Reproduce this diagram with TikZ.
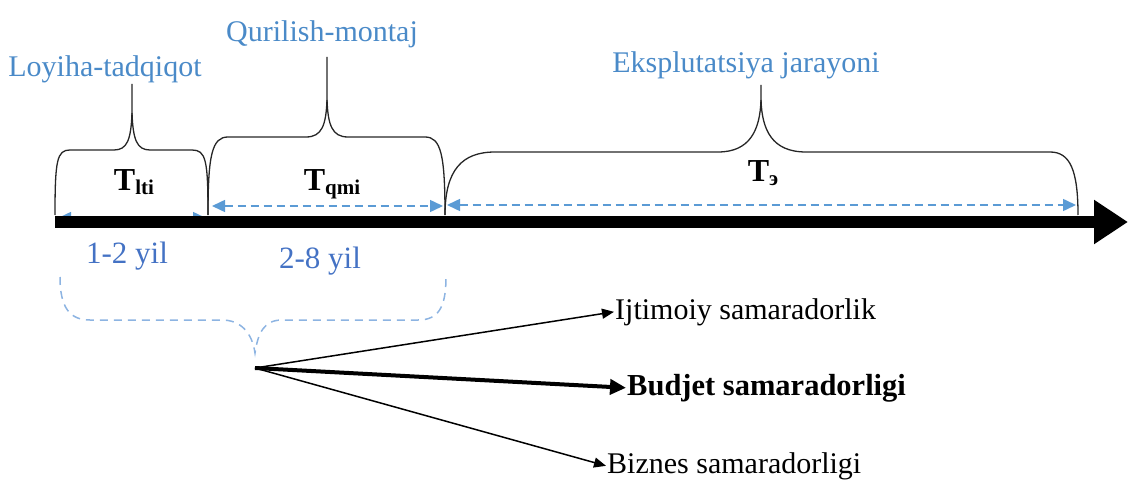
\documentclass[tikz,border=0pt]{standalone}
\usepackage{fontspec}
\setmainfont{Liberation Serif}
\usetikzlibrary{arrows.meta,calc,positioning}

\definecolor{toplbl}{RGB}{74,138,200}
\definecolor{yillbl}{RGB}{68,114,196}
\definecolor{dashblue}{RGB}{91,155,213}
\definecolor{bracelt}{RGB}{141,180,226}

\tikzset{
  stage/.style={text=toplbl, font=\fontsize{30}{34}\selectfont, inner sep=0pt, anchor=base},
  period/.style={text=yillbl, font=\fontsize{31}{34}\selectfont, inner sep=0pt, anchor=base},
  tlabel/.style={font=\bfseries\fontsize{32}{36}\selectfont, inner sep=0pt, anchor=base},
  effect/.style={font=\fontsize{30}{34}\selectfont, inner sep=1pt, anchor=base west},
  brace/.style={draw=black!85, line width=1.3pt},
  span/.style={draw=dashblue, line width=1.5pt, dash pattern=on 8pt off 5pt,
    {Triangle[length=13pt,width=12pt,fill=dashblue,sep=0pt]}-{Triangle[length=13pt,width=12pt,fill=dashblue]}},
  thinarrow/.style={line width=1.5pt, -{Triangle[length=12pt,width=10pt]}},
  boldarrow/.style={line width=4pt, -{Triangle[length=16pt,width=15pt]}}
}

\begin{document}
\begin{tikzpicture}[x=1pt, y=-1pt]
    \useasboundingbox (0,0) rectangle (1129,481);

    %coordinates
    \coordinate (axs) at (55,222);
    \coordinate (axe) at (1128,222);
    \coordinate (O)   at (255,368);

    \coordinate (b1l) at (55,215);
    \coordinate (b1r) at (208,215);
    \coordinate (b2r) at (445,215);
    \coordinate (b3r) at (1078,215);

    %nodes
    \node[stage] (lbllt) at (105,77) {Loyiha-tadqiqot};
    \node[stage] (lblqm) at (322,42) {Qurilish-montaj};
    \node[stage] (lblex) at (746,73) {Eksplutatsiya jarayoni};

    \node[tlabel] (tlt) at (134,190) {T\raisebox{-4pt}{\fontsize{21}{21}\selectfont lti}};
    \node[tlabel] (tqm) at (332,190) {T\raisebox{-4pt}{\fontsize{21}{21}\selectfont qmi}};
    \node[tlabel] (tex) at (763,182) {T\raisebox{-4pt}{\fontsize{21}{21}\selectfont э}};

    \node[period] (yil1) at (127,263) {1-2 yil};
    \node[period] (yil2) at (320,268) {2-8 yil};

    \node[effect] (ijt) at (614,319) {Ijtimoiy samaradorlik};
    \node[effect, font=\bfseries\fontsize{30.5}{34}\selectfont] (bud) at (626,395) {Budjet samaradorligi};
    \node[effect] (biz) at (606,473) {Biznes samaradorligi};

    %braces
    \draw[brace] (b1l) .. controls (55,160) and (57,150) .. (70,150) -- (114,150)
      .. controls (127,150) and (131,140) .. (132,113) -- (132,84);
    \draw[brace] (132,113) .. controls (133,140) and (137,150) .. (150,150) -- (192,150)
      .. controls (206,150) and (208,160) .. (b1r);

    \draw[brace] (b1r) .. controls (208,155) and (212,137) .. (228,137) -- (306,137)
      .. controls (322,137) and (326,125) .. (327,100) -- (327,57);
    \draw[brace] (327,100) .. controls (328,125) and (332,137) .. (348,137) -- (425,137)
      .. controls (441,137) and (445,155) .. (b2r);

    \draw[brace] (b2r) .. controls (445,170) and (462,152) .. (495,152) -- (718,152)
      .. controls (750,152) and (760,130) .. (761,100) -- (761,85);
    \draw[brace] (761,100) .. controls (762,130) and (772,152) .. (806,152) -- (1050,152)
      .. controls (1070,152) and (1078,170) .. (b3r);

    \draw[draw=bracelt, line width=1.5pt, dash pattern=on 8pt off 6pt]
      (60,277) .. controls (60,308) and (70,320) .. (90,320) -- (222,320)
      .. controls (240,320) and (252,332) .. (255,353)
      .. controls (258,333) and (264,320) .. (282,320) -- (418,320)
      .. controls (438,320) and (446,308) .. (446,277);

    %edges
    \draw[span] (58,218) -- (206,218);
    \draw[span] (212,206) -- (443,206);
    \draw[span] (447,205) -- (1076,205);

    \draw[line width=12pt, -{Triangle[length=34pt,width=42pt]}] (axs) -- (axe);

    \draw[thinarrow] (O) -- (ijt.west);
    \draw[boldarrow] (O) -- (bud.west);
    \draw[thinarrow] (O) -- (biz.west);
\end{tikzpicture}
\end{document}
